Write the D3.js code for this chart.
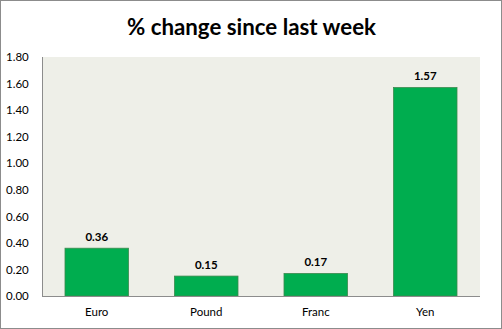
<!DOCTYPE html>
<html>
<head>
<meta charset="utf-8">
<script src="https://cdn.jsdelivr.net/npm/d3@7"></script>
<style>
  html, body { margin: 0; padding: 0; background: #fff; }
  svg { display: block; }
  text { font-family: Lato, "Open Sans", sans-serif; fill: #000; }
</style>
</head>
<body>
<svg id="chart" width="502" height="329"></svg>
<script>
// Weekly currency moves (%)
const currencies = ["Euro", "Pound", "Franc", "Yen"];
const changes = [0.36, 0.15, 0.17, 1.57];
const yTicks = [0, 0.2, 0.4, 0.6, 0.8, 1.0, 1.2, 1.4, 1.6, 1.8];
const title = "% change since last week";

const svg = d3.select("#chart");
const W = 502, H = 329;
const plot = { left: 42, right: 480, top: 57, bottom: 296 };

// outer frame
svg.append("rect")
  .attr("x", 0.5).attr("y", 0.5)
  .attr("width", W - 1).attr("height", H - 1)
  .attr("fill", "#fff").attr("stroke", "#8c8c8c");

svg.append("text")
  .attr("x", W / 2 + 0.5).attr("y", 35)
  .attr("text-anchor", "middle")
  .style("font-size", "22.3px").style("font-weight", "bold")
  .text(title);

const x = d3.scaleBand()
  .domain(currencies)
  .range([plot.left, plot.right])
  .paddingInner(0.42).paddingOuter(0.21);

const y = d3.scaleLinear()
  .domain([0, 1.8])
  .range([plot.bottom, plot.top]);

// plot background
svg.append("rect")
  .attr("x", plot.left).attr("y", plot.top)
  .attr("width", plot.right - plot.left)
  .attr("height", plot.bottom - plot.top)
  .attr("fill", "#eeefe8");

// y axis labels
const yAxis = d3.axisLeft(y).tickValues(yTicks).tickFormat(d3.format(".2f")).tickSize(0);
const gy = svg.append("g").attr("transform", `translate(${plot.left},0)`).call(yAxis);
gy.select(".domain").remove();
gy.selectAll("text")
  .attr("x", -36).attr("text-anchor", "start")
  .style("font-family", "Lato, 'Open Sans', sans-serif")
  .style("font-size", "11.5px").attr("fill", "#000");

// bars
svg.append("g").selectAll("rect")
  .data(currencies)
  .join("rect")
  .attr("x", d => x(d))
  .attr("width", x.bandwidth())
  .attr("y", (d, i) => y(changes[i]))
  .attr("height", (d, i) => y(0) - y(changes[i]))
  .attr("fill", "#00ad4f")
  .attr("stroke", "#3c8a4f").attr("stroke-width", 0.8);

// value labels
svg.append("g").selectAll("text")
  .data(currencies)
  .join("text")
  .attr("x", d => x(d) + x.bandwidth() / 2)
  .attr("y", (d, i) => y(changes[i]) - 7.5)
  .attr("text-anchor", "middle")
  .style("font-size", "11.5px").style("font-weight", "bold")
  .text((d, i) => changes[i].toFixed(2));

// x axis
const xAxis = d3.axisBottom(x).tickSize(0).tickPadding(12);
const gx = svg.append("g").attr("transform", `translate(0,${plot.bottom})`).call(xAxis);
gx.select(".domain").remove();
gx.selectAll("text")
  .style("font-family", "Lato, 'Open Sans', sans-serif")
  .style("font-size", "11.5px").attr("fill", "#000");

// axis lines
svg.append("line")
  .attr("x1", plot.left + 0.5).attr("x2", plot.left + 0.5)
  .attr("y1", plot.top).attr("y2", plot.bottom)
  .attr("stroke", "#8c8c8c");
svg.append("line")
  .attr("x1", plot.left).attr("x2", plot.right)
  .attr("y1", plot.bottom + 0.5).attr("y2", plot.bottom + 0.5)
  .attr("stroke", "#8c8c8c");
</script>
</body>
</html>
